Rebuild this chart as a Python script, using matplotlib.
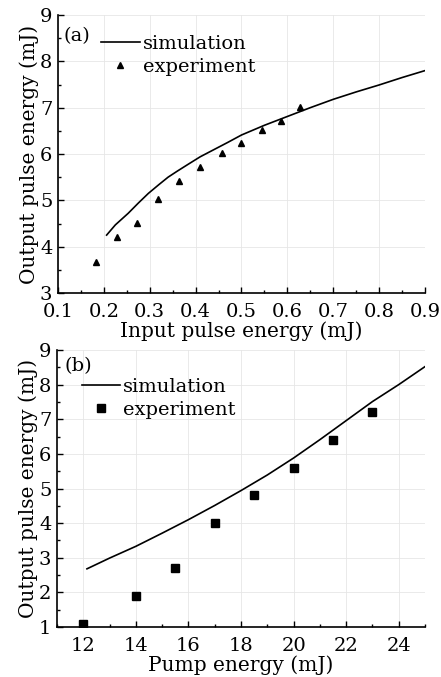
import matplotlib
matplotlib.use("Agg")
import matplotlib.pyplot as plt
from matplotlib.ticker import MultipleLocator

# Panel (a)
a_exp_x = [0.183, 0.228, 0.273, 0.318, 0.364, 0.409, 0.458, 0.498, 0.545, 0.587, 0.627]
a_exp_y = [3.67, 4.21, 4.52, 5.02, 5.42, 5.73, 6.02, 6.23, 6.52, 6.72, 7.02]
a_sim_x = [0.206, 0.225, 0.253, 0.275, 0.297, 0.32, 0.34, 0.36, 0.384, 0.41, 0.439,
           0.47, 0.5, 0.55, 0.6, 0.65, 0.7, 0.75, 0.8, 0.85, 0.9]
a_sim_y = [4.25, 4.47, 4.72, 4.94, 5.15, 5.34, 5.50, 5.63, 5.78, 5.94, 6.09,
           6.25, 6.41, 6.62, 6.81, 7.00, 7.18, 7.34, 7.49, 7.65, 7.80]

# Panel (b)
b_exp_x = [12.0, 14.0, 15.5, 17.0, 18.5, 20.0, 21.5, 23.0]
b_exp_y = [1.1, 1.9, 2.7, 4.0, 4.8, 5.6, 6.4, 7.2]
b_sim_x = [12.14, 13.0, 14.0, 15.0, 16.0, 17.0, 18.0, 19.0, 20.0, 21.0, 22.0, 23.0, 24.0, 25.0]
b_sim_y = [2.68, 2.99, 3.33, 3.71, 4.10, 4.51, 4.94, 5.39, 5.88, 6.41, 6.96, 7.51, 8.00, 8.52]

plt.rcParams['font.family'] = ['DejaVu Serif']
FS = 14
LFS = 14.5

fig = plt.figure(figsize=(4.41, 6.77), dpi=100)
ax1 = fig.add_axes([58/441, 1-293/677, (425-58)/441, (293-15)/677])
ax2 = fig.add_axes([57/441, 1-627/677, (425-57)/441, (627-350)/677])

def style(ax):
    for s in ['top', 'right']:
        ax.spines[s].set_visible(False)
    for s in ['left', 'bottom']:
        ax.spines[s].set_linewidth(1.2)
    ax.tick_params(which='both', direction='in', labelsize=FS)
    ax.tick_params(axis='x', which='both', pad=7)
    ax.tick_params(axis='y', which='both', pad=4)
    ax.tick_params(which='major', length=4, width=1)
    ax.tick_params(which='minor', length=2.5, width=1)
    ax.grid(True, which='major', color='#e6e6e6', linewidth=0.6)
    ax.set_axisbelow(True)

ax1.plot(a_sim_x, a_sim_y, color='black', lw=1.2, label='simulation')
ax1.plot(a_exp_x, a_exp_y, linestyle='none', marker='^', color='black', ms=5, label='experiment')
ax1.set_xlim(0.1, 0.9)
ax1.set_ylim(3, 9)
ax1.xaxis.set_major_locator(MultipleLocator(0.1))
ax1.xaxis.set_minor_locator(MultipleLocator(0.05))
ax1.yaxis.set_major_locator(MultipleLocator(1))
ax1.yaxis.set_minor_locator(MultipleLocator(0.5))
style(ax1)
ax1.set_xlabel('Input pulse energy (mJ)', fontsize=LFS, labelpad=0.5)
ax1.set_ylabel('Output pulse energy (mJ)', fontsize=LFS, labelpad=1)
ax1.text(0.015, 0.955, '(a)', transform=ax1.transAxes, fontsize=FS, va='top', ha='left')
ax1.legend(loc='upper left', bbox_to_anchor=(0.085, 0.97), frameon=False, fontsize=FS,
           handlelength=2.0, handletextpad=0.15, labelspacing=0.25, borderpad=0.1)

ax2.plot(b_sim_x, b_sim_y, color='black', lw=1.2, label='simulation')
ax2.plot(b_exp_x, b_exp_y, linestyle='none', marker='s', color='black', ms=6, label='experiment')
ax2.set_xlim(11, 25)
ax2.set_ylim(1, 9)
ax2.xaxis.set_major_locator(MultipleLocator(2))
ax2.xaxis.set_minor_locator(MultipleLocator(1))
ax2.yaxis.set_major_locator(MultipleLocator(1))
ax2.yaxis.set_minor_locator(MultipleLocator(0.5))
style(ax2)
ax2.set_xlabel('Pump energy (mJ)', fontsize=LFS, labelpad=0.5)
ax2.set_ylabel('Output pulse energy (mJ)', fontsize=LFS, labelpad=1)
ax2.text(0.02, 0.975, '(b)', transform=ax2.transAxes, fontsize=FS, va='top', ha='left')
ax2.legend(loc='upper left', bbox_to_anchor=(0.035, 0.94), frameon=False, fontsize=FS,
           handlelength=2.0, handletextpad=0.15, labelspacing=0.25, borderpad=0.1)

fig.savefig('out.png', dpi=100)
